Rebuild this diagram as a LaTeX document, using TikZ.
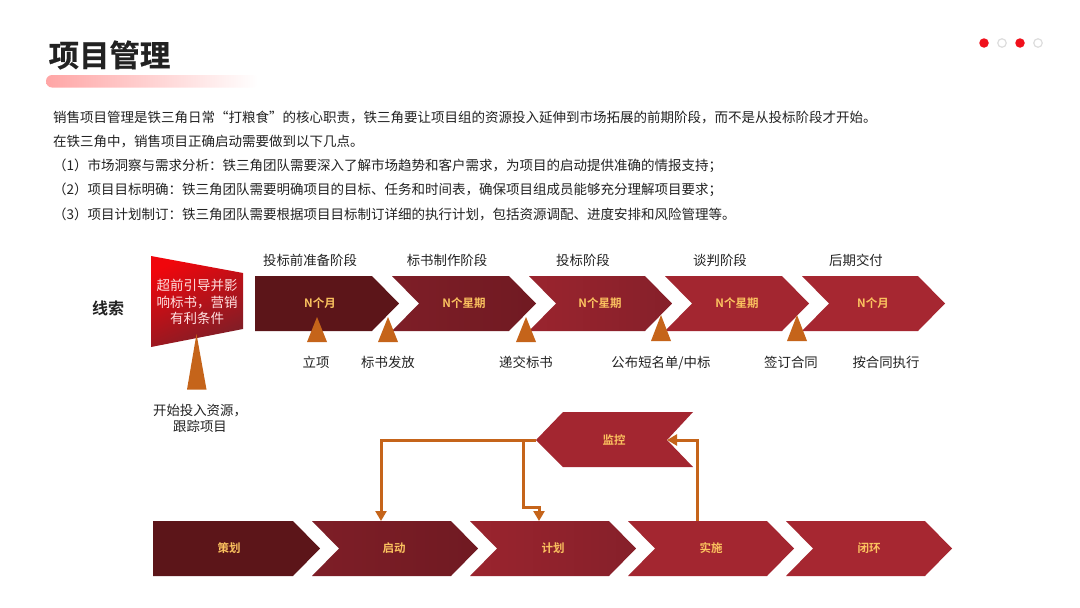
\documentclass[tikz,border=0pt]{standalone}
\usepackage{fontspec}
\setmainfont{Noto Sans CJK SC}[BoldFont={Noto Sans CJK SC Bold}]
\newfontfamily\titlefont{Noto Sans CJK SC Bold}[FakeBold=0.6]
\usetikzlibrary{arrows.meta}
\definecolor{cA}{HTML}{5C1519}
\definecolor{cB}{HTML}{701A22}
\definecolor{cC}{HTML}{7E1E27}
\definecolor{cD}{HTML}{86202A}
\definecolor{cE}{HTML}{9A242E}
\definecolor{cF}{HTML}{A32630}
\definecolor{cG}{HTML}{A62731}
\definecolor{gold}{HTML}{FBC25F}
\definecolor{orangeL}{HTML}{C5641A}
\definecolor{inkT}{HTML}{222222}
\definecolor{dotR}{HTML}{F0101C}
\definecolor{dotG}{HTML}{DDDDDD}
\definecolor{redHi}{HTML}{F0060C}
\definecolor{redMid}{HTML}{A8161E}
\definecolor{redLo}{HTML}{7E1E27}
\tikzset{
  stagetext/.style={font=\fontsize{11.5}{13}\selectfont\bfseries,text=gold,inner sep=0pt},
  bodytext/.style={font=\fontsize{13.5}{16}\selectfont,text=inkT,anchor=west,inner sep=0pt},
  labeltext/.style={font=\fontsize{13.4}{16.2}\selectfont,text=inkT,inner sep=0pt,align=center},
  marker/.style={fill=orangeL,draw=none},
  flow/.style={draw=orangeL,line width=3pt,-{Triangle[length=10pt,width=11pt]}},
  dotfull/.style={circle,fill=dotR,minimum size=9.5pt,inner sep=0pt},
  dotempty/.style={circle,draw=dotG,line width=1.2pt,fill=white,minimum size=8.5pt,inner sep=0pt},
}
% name, x-left, x-tip, y-top, y-bottom, colour L, colour R, label x, label
\newcommand{\chevshape}[9]{%
  \path[left color=#6,right color=#7,draw=none]
    (#2,#4) -- ({#3-27},#4) -- (#3,{(#4+#5)/2}) -- ({#3-27},#5) -- (#2,#5)
    -- ({#2+27},{(#4+#5)/2}) -- cycle;
  \node[stagetext] (#1) at (#8,{(#4+#5)/2}) {#9};
}
\newcommand{\chevfirst}[9]{%
  \path[left color=#6,right color=#7,draw=none]
    (#2,#4) -- ({#3-27},#4) -- (#3,{(#4+#5)/2}) -- ({#3-27},#5) -- (#2,#5) -- cycle;
  \node[stagetext] (#1) at (#8,{(#4+#5)/2}) {#9};
}
\newcommand{\markup}[3]{\path[marker] (#1,#2) -- ({#1+10},#3) -- ({#1-10},#3) -- cycle;}
\begin{document}
\begin{tikzpicture}[x=1pt,y=-1pt]
\useasboundingbox (0,0) rectangle (1080,608);
\fill[white] (0,0) rectangle (1080,608);

% title
\path[left color=red!35!white,right color=white,rounded corners=6pt] (46,75) rectangle (258,87.5);
\node[font=\fontsize{30.4}{34}\titlefont,text=inkT,anchor=west,inner sep=0pt] (title) at (48.5,55) {项目管理};

% page dots
\node[dotfull] (d1) at (984,43) {};
\node[dotempty] (d2) at (1002,43) {};
\node[dotfull] (d3) at (1020,43) {};
\node[dotempty] (d4) at (1038,43) {};

% body
\node[bodytext] (l1) at (53,117) {销售项目管理是铁三角日常“打粮食”的核心职责，铁三角要让项目组的资源投入延伸到市场拓展的前期阶段，而不是从投标阶段才开始。};
\node[bodytext] (l2) at (53,141.5) {在铁三角中，销售项目正确启动需要做到以下几点。};
\node[bodytext] (l3) at (53,165.5) {（1）市场洞察与需求分析：铁三角团队需要深入了解市场趋势和客户需求，为项目的启动提供准确的情报支持；};
\node[bodytext] (l4) at (53,190) {（2）项目目标明确：铁三角团队需要明确项目的目标、任务和时间表，确保项目组成员能够充分理解项目要求；};
\node[bodytext] (l5) at (53,214) {（3）项目计划制订：铁三角团队需要根据项目目标制订详细的执行计划，包括资源调配、进度安排和风险管理等。};

% clue row
\node[font=\fontsize{16}{18}\selectfont\bfseries,text=inkT,inner sep=0pt] (clue) at (108,308) {线索};
\path[top color=redHi,middle color=redMid,bottom color=redLo,shading angle=25] (151,256) -- (243,273) -- (243,329) -- (151,347) -- cycle;
\node[font=\fontsize{13.5}{16.5}\selectfont,text=white!88!red,align=center,inner sep=0pt] (lead) at (197,302) {超前引导并影\\响标书，营销\\有利条件};

\chevfirst{t1}{255}{399}{276}{331}{cA}{cA}{320}{N个月}
\chevshape{t2}{392}{536}{276}{331}{cC}{cB}{464}{N个星期}
\chevshape{t3}{529}{672}{276}{331}{cE}{cD}{600}{N个星期}
\chevshape{t4}{665}{809}{276}{331}{cF}{cF}{737}{N个星期}
\chevshape{t5}{802}{945}{276}{331}{cG}{cG}{873}{N个月}

\node[labeltext] (h1) at (310,260) {投标前准备阶段};
\node[labeltext] (h2) at (447,260) {标书制作阶段};
\node[labeltext] (h3) at (583,260) {投标阶段};
\node[labeltext] (h4) at (720,260) {谈判阶段};
\node[labeltext] (h5) at (856,260) {后期交付};

\path[marker] (196.5,334) -- (206.5,389.5) -- (187,389.5) -- cycle;
\markup{317}{317}{342}
\markup{388}{317}{342}
\markup{526}{317}{342}
\markup{661}{315}{341}
\markup{797}{315}{341}

\node[labeltext] (m1) at (316,362) {立项};
\node[labeltext] (m2) at (388,362) {标书发放};
\node[labeltext] (m3) at (526,362) {递交标书};
\node[labeltext] (m4) at (661,363) {公布短名单/中标};
\node[labeltext] (m5) at (791,362) {签订合同};
\node[labeltext] (m6) at (886,362) {按合同执行};
\node[labeltext] (m0) at (200,418) {开始投入资源，\\跟踪项目};

% bottom row
\chevfirst{b1}{153}{320}{521}{576}{cA}{cA}{229}{策划}
\chevshape{b2}{312}{478}{521}{576}{cC}{cB}{394}{启动}
\chevshape{b3}{470}{636}{521}{576}{cE}{cD}{553}{计划}
\chevshape{b4}{628}{794}{521}{576}{cF}{cF}{711}{实施}
\chevshape{b5}{786}{952}{521}{576}{cG}{cG}{869}{闭环}

% monitor
\path[fill=cF] (536,440) -- (563,412) -- (693,412) -- (667,440) -- (693,467) -- (563,467) -- cycle;
\node[stagetext] (mon) at (614,440) {监控};

% connectors
\coordinate (monL) at (536,440);
\coordinate (monR) at (667,440);
\coordinate (split) at (523,440);
\coordinate (toB2) at (381,521);
\coordinate (toB3) at (539,521);
\coordinate (fromB4) at (697,521);
\draw[flow] (monL) -| (toB2);
\draw[flow] (split) -- (split |- 0,507) -| (toB3);
\draw[flow] (fromB4) |- (monR);
\end{tikzpicture}
\end{document}
